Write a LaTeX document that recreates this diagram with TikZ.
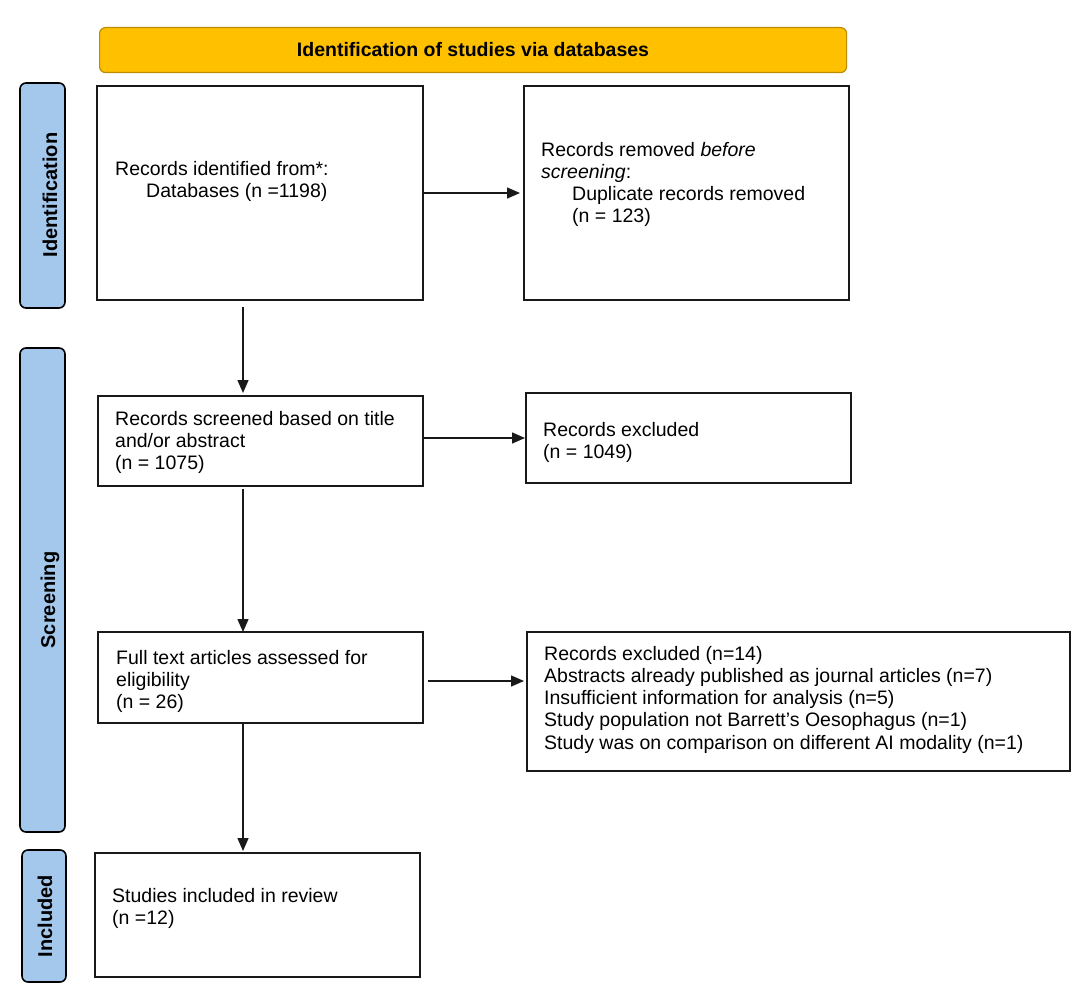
\documentclass[tikz,border=0pt]{standalone}
\usepackage{fontspec}
\setmainfont{Liberation Sans}
\usetikzlibrary{arrows.meta,calc}
\definecolor{ybar}{RGB}{255,192,0}
\definecolor{yborder}{RGB}{190,140,0}
\definecolor{sidefill}{RGB}{164,199,236}
\definecolor{boxline}{RGB}{25,25,25}
\begin{document}
\begin{tikzpicture}[x=1pt,y=-1pt,
  box/.style={draw=boxline, line width=1.8pt, rectangle, inner sep=0pt, outer sep=0pt, anchor=north west},
  txt/.style={anchor=base west, align=left, inner sep=0pt, font=\fontsize{19.5}{22.3}\selectfont},
  side/.style={draw=black, line width=1.6pt, fill=sidefill, rounded corners=6pt, rectangle, inner sep=0pt, outer sep=0pt, anchor=north west},
  sidelabel/.style={rotate=90, font=\fontsize{20}{24}\selectfont\bfseries, inner sep=0pt},
  arr/.style={-{Triangle[length=13pt,width=11pt]}, line width=1.4pt, draw=boxline}]
\useasboundingbox[fill=white] (0,0) rectangle (1084,998);

% header
\node[draw=yborder, line width=1.2pt, fill=ybar, rounded corners=6pt, rectangle, inner sep=0pt,
      minimum width=747pt, minimum height=45pt, anchor=north west] (hdr) at (99,27) {};
\node[font=\fontsize{19.5}{24}\selectfont\bfseries, inner sep=0pt] (hdrt) at (473,50) {Identification of studies via databases};

% side bars
\node[side, minimum width=45pt, minimum height=225pt] (sid) at (20,83) {};
\node[sidelabel] (sidt) at (50,195) {Identification};
\node[side, minimum width=45pt, minimum height=484pt] (sscr) at (20,348) {};
\node[sidelabel] (sscrt) at (50,600) {Screening};
\node[side, minimum width=44pt, minimum height=132pt] (sinc) at (22,850) {};
\node[sidelabel] (sinct) at (45,916) {Included};

% boxes (text nodes are anchored at the baseline of their last line)
\node[box, minimum width=326pt, minimum height=214pt] (b1) at (97,86) {};
\node[txt] (t1) at (115,197.3) {Records identified from*:\\\hspace*{31pt}Databases (n =1198)};

\node[box, minimum width=325pt, minimum height=214pt] (b2) at (524,86) {};
\node[txt] (t2) at (541,222.9) {Records removed \textit{before}\\\textit{screening}:\\\hspace*{31pt}Duplicate records removed\\\hspace*{31pt}(n = 123)};

\node[box, minimum width=325pt, minimum height=90pt] (b3) at (98,396) {};
\node[txt] (t3) at (115,469.6) {Records screened based on title\\and/or abstract\\(n = 1075)};

\node[box, minimum width=325pt, minimum height=90pt] (b4) at (526,393) {};
\node[txt] (t4) at (543,458.3) {Records excluded\\(n = 1049)};

\node[box, minimum width=325pt, minimum height=91pt] (b5) at (98,632) {};
\node[txt] (t5) at (116,708.6) {Full text articles assessed for\\eligibility\\(n = 26)};

\node[box, minimum width=543pt, minimum height=139pt] (b6) at (527,632) {};
\node[txt] (t6) at (544,749.2) {Records excluded (n=14)\\Abstracts already published as journal articles (n=7)\\Insufficient information for analysis (n=5)\\Study population not Barrett's Oesophagus (n=1)\\Study was on comparison on different AI modality (n=1)};

\node[box, minimum width=325pt, minimum height=124pt] (b7) at (95,853) {};
\node[txt] (t7) at (112,924.3) {Studies included in review\\(n =12)};

% connectors
\coordinate (vx) at (243,0);
\draw[arr, shorten >=4pt] (b1.east) -- (b1.east -| b2.west);
\draw[arr, shorten <=7pt, shorten >=3pt] (vx |- b1.south) -- (vx |- b3.north);
\draw[arr, shorten >=1pt] (b3.east |- b4.west) -- (b4.west);
\draw[arr, shorten <=3pt] (b3.south -| vx) -- (vx |- b5.north);
\draw[arr, shorten <=5pt, shorten >=3pt] ([yshift=-3.5pt]b5.east) -- ([yshift=-3.5pt]b5.east -| b6.west);
\draw[arr, shorten >=2pt] (b5.south -| vx) -- (vx |- b7.north);
\end{tikzpicture}
\end{document}
